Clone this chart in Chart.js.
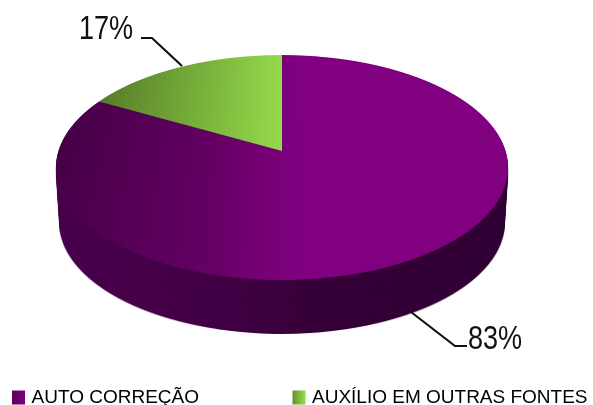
<!DOCTYPE html>
<html><head><meta charset="utf-8">
<style>html,body{margin:0;padding:0;background:#fff}#w{width:593px;height:405px}</style>
<script src="https://cdn.jsdelivr.net/npm/chart.js@4"></script></head>
<body><div id="w"><canvas id="c" width="593" height="405"></canvas></div>
<script>
const categories=['AUTO CORREÇÃO','AUXÍLIO EM OUTRAS FONTES'];
const values=[83,17];
const topStops=[[[0,'#460046'],[0.33,'#620062'],[0.54,'#800080'],[1,'#800080']],[[0.05,'#557a28'],[0.5,'#94da4a'],[1,'#94da4a']]];
const wallStops=[[0,'#4a004e'],[0.35,'#420046'],[0.6,'#360038'],[1,'#320036']];
const legendStops=[['#5a005a','#800080'],['#5f8f2c','#94da4a']];
const FONT='"Liberation Sans"';
// projection of the pie disc (perspective)
const P={x:282,y:151,A:223.6,B:110,c:0.1467,top:55,bottom:280};
const depth=56, shrink=0.016;
const pad=96.5;

function vAt(Y){const t=P.y-Y;return t/(P.B-P.c*t);}
function drawDisc(ctx,meta){
  const a0=meta.data[0],cx=a0.x,cy=a0.y,R=a0.outerRadius;
  for(let Y=P.top;Y<P.bottom;Y++){
    const v1=vAt(Y),v2=vAt(Y+1),vm=vAt(Y+.5),w=1/(1+P.c*vm);
    const a=P.A*w/R,k=1/((v1-v2)*R),py=cy-vm*R;
    ctx.save();
    ctx.beginPath();ctx.rect(0,Y,593,1);ctx.clip();
    ctx.setTransform(a,0,0,k,P.x-a*cx,Y+.5-k*py);
    meta.data.forEach(el=>el.draw(ctx));
    ctx.restore();
  }
}
function label(ctx,text,x,y){
  ctx.save();ctx.translate(x,y);ctx.scale(0.82,1);ctx.fillText(text,0,0);ctx.restore();
}
const pie3d={id:'pie3d',
  afterLayout(chart){const l=chart.legend;l.left=15-pad;l.right=5000;l.top=388-pad;},
  beforeDatasetsDraw(chart){
    const ctx=chart.ctx,meta=chart.getDatasetMeta(0);
    const off=document.createElement('canvas');off.width=593;off.height=405;
    const o=off.getContext('2d');
    drawDisc(o,meta);
    o.globalCompositeOperation='source-in';
    const g=o.createLinearGradient(56,0,508,0);wallStops.forEach(s=>g.addColorStop(s[0],s[1]));
    o.fillStyle=g;o.fillRect(0,0,593,405);
    for(let d=depth;d>=1;d--){
      const s=1-shrink*d/depth;
      ctx.drawImage(off,P.x-P.x*s,P.y+d-P.y*s,593*s,405*s);
    }
    drawDisc(ctx,meta);
    return false;
  },
  afterDraw(chart){
    const ctx=chart.ctx;
    ctx.save();
    ctx.strokeStyle='#111';ctx.lineWidth=2.2;ctx.lineJoin='miter';
    ctx.beginPath();ctx.moveTo(141,38);ctx.lineTo(152,38);ctx.lineTo(182,66);ctx.stroke();
    ctx.beginPath();ctx.moveTo(411,312);ctx.lineTo(455,346);ctx.lineTo(467,346);ctx.stroke();
    ctx.fillStyle='#111';ctx.textBaseline='alphabetic';ctx.textAlign='left';
    ctx.font='33px '+FONT;
    label(ctx,values[1]+'%',79,39);
    label(ctx,values[0]+'%',468,349);
    ctx.restore();
  }
};
function grad(chart,stops){
  const a=chart.chartArea,cx=(a.left+a.right)/2,R=Math.min(a.right-a.left,a.bottom-a.top)/2;
  const g=chart.ctx.createLinearGradient(cx-R,0,cx+R,0);
  stops.forEach(s=>g.addColorStop(s[0],s[1]));return g;
}
new Chart(document.getElementById('c'),{
  type:'pie',
  data:{labels:categories,datasets:[{data:values,
    backgroundColor:c=>c.chart.chartArea?grad(c.chart,topStops[c.dataIndex]):'#800080',
    borderWidth:0,hoverOffset:0}]},
  options:{responsive:false,animation:false,events:[],
    layout:{padding:0},
    plugins:{tooltip:{enabled:false},
      legend:{position:'bottom',align:'start',maxHeight:40,
        labels:{boxWidth:7,boxHeight:8,padding:pad,color:'#111',font:{family:FONT,size:19},
          generateLabels(chart){
            const xs=[12,292];
            return categories.map((t,i)=>{
              const g=chart.ctx.createLinearGradient(xs[i],0,xs[i]+13,0);
              g.addColorStop(0,legendStops[i][0]);g.addColorStop(1,legendStops[i][1]);
              return {text:t,fillStyle:g,strokeStyle:g,lineWidth:6,index:i,hidden:false};
            });
          }}}}},
  plugins:[pie3d]
});
</script></body></html>
